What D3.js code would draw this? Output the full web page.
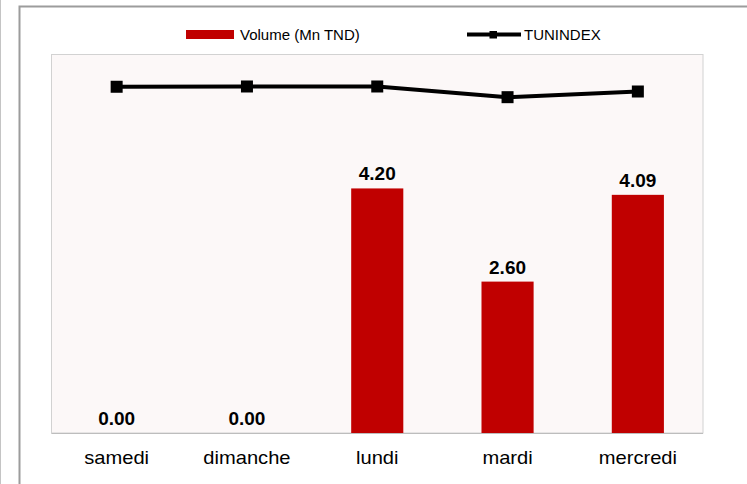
<!DOCTYPE html>
<html><head><meta charset="utf-8">
<script src="https://cdn.jsdelivr.net/npm/d3@7"></script>
<style>
body{margin:0;background:#fff}
svg{display:block}
text{font-family:"Liberation Sans",Arial,sans-serif;fill:#000}
</style>
</head><body>
<svg id="c" width="747" height="484"></svg>
<script>
const categories = ["samedi", "dimanche", "lundi", "mardi", "mercredi"];
const volume = [0.00, 0.00, 4.20, 2.60, 4.09];
const tunindex = [7315.9, 7316.2, 7316.2, 7304.9, 7310.9];
const seriesNames = ["Volume (Mn TND)", "TUNINDEX"];
const volumeDomain = [0, 6.5];
const tunindexDomain = [6950, 7350];

const svg = d3.select("#c");
const plot = {left: 51.5, right: 703, top: 54.5, bottom: 433};

// outer frame
svg.append("line").attr("x1", 0.5).attr("x2", 0.5).attr("y1", 0).attr("y2", 484)
  .attr("stroke", "#c4c4c4").attr("stroke-width", 1);
svg.append("rect").attr("x", 19.5).attr("y", 6.5).attr("width", 800).attr("height", 600)
  .attr("fill", "#fff").attr("stroke", "#9c9c9c").attr("stroke-width", 2);

// plot area
svg.append("rect").attr("x", plot.left).attr("y", plot.top)
  .attr("width", plot.right - plot.left).attr("height", plot.bottom - plot.top)
  .attr("fill", "#fcf8f8").attr("stroke", "#d2d2d2").attr("stroke-width", 1);

const x = d3.scaleBand().domain(categories).range([plot.left, plot.right])
  .paddingInner(0.6).paddingOuter(0.3);
const y = d3.scaleLinear().domain(volumeDomain).range([plot.bottom, plot.top]);
const y2 = d3.scaleLinear().domain(tunindexDomain).range([plot.bottom, plot.top]);
const cx = c => x(c) + x.bandwidth() / 2;

// bars
svg.append("g").selectAll("rect").data(categories).join("rect")
  .attr("x", c => x(c)).attr("width", x.bandwidth())
  .attr("y", (c, i) => y(volume[i]))
  .attr("height", (c, i) => y(0) - y(volume[i]))
  .attr("fill", "#c00000");

// axis line
svg.append("line").attr("x1", plot.left).attr("x2", plot.right)
  .attr("y1", plot.bottom + 0.5).attr("y2", plot.bottom + 0.5)
  .attr("stroke", "#bdbdbd").attr("stroke-width", 1);

// bar labels
svg.append("g").selectAll("text").data(categories).join("text")
  .attr("x", c => cx(c)).attr("y", (c, i) => y(volume[i]) - 8)
  .attr("text-anchor", "middle").attr("font-size", 19).attr("font-weight", "bold")
  .text((c, i) => volume[i].toFixed(2));

// x axis
const xa = svg.append("g").attr("transform", `translate(0,${plot.bottom})`)
  .call(d3.axisBottom(x).tickSize(0));
xa.select(".domain").remove();
xa.selectAll("text").attr("y", 31).attr("dy", 0)
  .attr("font-size", 17.5).attr("font-family", "Liberation Sans, Arial, sans-serif")
  .attr("fill", "#000").attr("transform", "scale(1.15,1)");

// line
const line = d3.line().x((d, i) => cx(categories[i])).y(d => y2(d));
svg.append("path").datum(tunindex).attr("d", line)
  .attr("fill", "none").attr("stroke", "#000").attr("stroke-width", 4)
  .attr("stroke-linejoin", "round");
svg.append("g").selectAll("rect").data(tunindex).join("rect")
  .attr("x", (d, i) => cx(categories[i]) - 6).attr("y", d => y2(d) - 6)
  .attr("width", 12).attr("height", 12).attr("fill", "#000");

// legend
const lg = svg.append("g");
lg.append("rect").attr("x", 186).attr("y", 30).attr("width", 48).attr("height", 9).attr("fill", "#c00000");
lg.append("text").attr("x", 240).attr("y", 39.5).attr("font-size", 15).text(seriesNames[0]);
lg.append("line").attr("x1", 467).attr("x2", 521).attr("y1", 34.5).attr("y2", 34.5)
  .attr("stroke", "#000").attr("stroke-width", 4);
lg.append("rect").attr("x", 489.5).attr("y", 31).attr("width", 7.5).attr("height", 7.5).attr("fill", "#000");
lg.append("text").attr("x", 524).attr("y", 39.5).attr("font-size", 15).text(seriesNames[1]);
</script>
</body></html>
